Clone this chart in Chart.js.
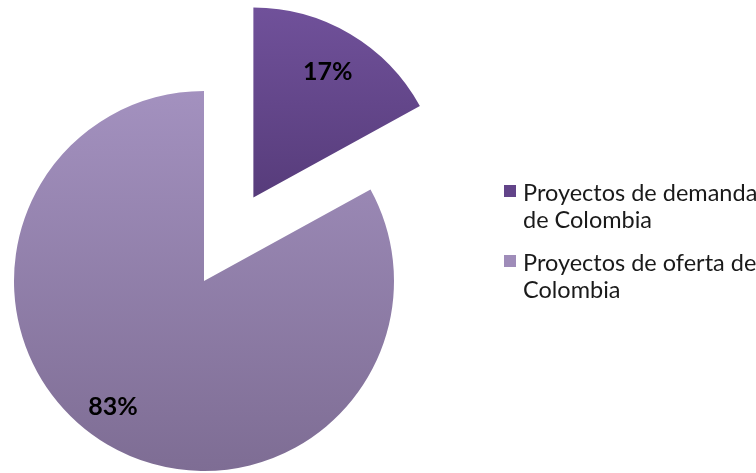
<!DOCTYPE html>
<html>
<head>
<meta charset="utf-8">
<script src="https://cdn.jsdelivr.net/npm/chart.js@4/dist/chart.umd.min.js"></script>
<style>
  html, body { margin: 0; padding: 0; background: #ffffff; overflow: hidden; }
  #wrap { position: relative; width: 756px; height: 473px; overflow: hidden; }
  #c { position: absolute; left: 0; top: 0; }
  #legend { position: absolute; left: 504px; top: 179.4px; font-family: Lato, "Open Sans", sans-serif; font-size: 23.5px; color: #1a1a1a; white-space: nowrap; }
  .item { position: relative; padding-left: 19px; line-height: 27px; margin-bottom: 16px; }
  .sw { position: absolute; left: 0; top: 5.5px; width: 12px; height: 12px; }
</style>
</head>
<body>
<div id="wrap">
  <canvas id="c" width="756" height="473"></canvas>
  <div id="legend"></div>
</div>
<script>
const categories = [["Proyectos de demanda", "de Colombia"], ["Proyectos de oferta de", "Colombia"]];
const values = [17, 83];
const valueLabels = ["17%", "83%"];
const legendColors = ["#624489", "#9f8cb9"];
const gradTop = ["#70519a", "#a391bf"];
const gradBottom = ["#573c7b", "#7e6d94"];

const RADIUS = 190;
const EXPLODE = [97, 0];

function midAngle(i) {
  const total = values.reduce((a, b) => a + b, 0);
  let start = 0;
  for (let k = 0; k < i; k++) start += values[k] / total;
  return (start + values[i] / total / 2) * 2 * Math.PI - Math.PI / 2;
}

function sliceGradient(context) {
  const chart = context.chart;
  const area = chart.chartArea;
  const i = context.dataIndex;
  if (!area) return legendColors[i];
  const cy = (area.top + area.bottom) / 2;
  const oy = Math.sin(midAngle(i)) * EXPLODE[i];
  let y0, y1;
  if (EXPLODE[i] > 0) { y0 = cy + oy - RADIUS; y1 = cy + oy; }
  else { y0 = cy - RADIUS; y1 = cy + RADIUS; }
  const g = chart.ctx.createLinearGradient(0, y0, 0, y1);
  g.addColorStop(0, gradTop[i]);
  g.addColorStop(1, gradBottom[i]);
  return g;
}

// Pull exploded slices out along their bisector (pixel distance, unlike Chart.js' offset/4).
const explodePlugin = {
  id: 'explode',
  afterDatasetUpdate(chart, args) {
    const meta = chart.getDatasetMeta(args.index);
    meta.data.forEach((arc, i) => {
      const d = EXPLODE[i] || 0;
      if (!d) return;
      const mid = (arc.startAngle + arc.endAngle) / 2;
      arc.x += Math.cos(mid) * d;
      arc.y += Math.sin(mid) * d;
    });
  }
};

const labelFactor = [0.77, 0.82];
const labelAngleShift = [0, 0.09];

const labelPlugin = {
  id: 'valueLabels',
  afterDatasetsDraw(chart) {
    const ctx = chart.ctx;
    const meta = chart.getDatasetMeta(0);
    ctx.save();
    ctx.font = 'bold 25px Lato, "Open Sans", sans-serif';
    ctx.fillStyle = '#000000';
    ctx.textAlign = 'center';
    ctx.textBaseline = 'middle';
    meta.data.forEach((arc, i) => {
      const mid = (arc.startAngle + arc.endAngle) / 2 + labelAngleShift[i];
      const r = arc.outerRadius * labelFactor[i];
      ctx.fillText(valueLabels[i], arc.x + Math.cos(mid) * r, arc.y + Math.sin(mid) * r);
    });
    ctx.restore();
  }
};

new Chart(document.getElementById('c'), {
  type: 'pie',
  data: {
    labels: categories.map(c => c.join(' ')),
    datasets: [{
      data: values,
      backgroundColor: sliceGradient,
      borderWidth: 0,
      offset: 0,
      hoverOffset: 0,
      clip: false
    }]
  },
  options: {
    responsive: false,
    animation: false,
    radius: RADIUS,
    layout: { padding: { left: 0, right: 348, top: 89, bottom: 0 } },
    plugins: { legend: { display: false }, tooltip: { enabled: false } },
    events: []
  },
  plugins: [explodePlugin, labelPlugin]
});

const legend = document.getElementById('legend');
categories.forEach((lines, i) => {
  const item = document.createElement('div');
  item.className = 'item';
  const sw = document.createElement('span');
  sw.className = 'sw';
  sw.style.background = legendColors[i];
  item.appendChild(sw);
  lines.forEach((t) => {
    const d = document.createElement('div');
    d.textContent = t;
    item.appendChild(d);
  });
  legend.appendChild(item);
});
</script>
</body>
</html>
